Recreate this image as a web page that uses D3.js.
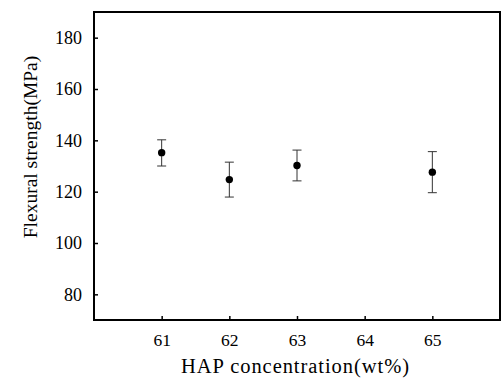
<!DOCTYPE html>
<html>
<head>
<meta charset="utf-8">
<script src="https://cdn.jsdelivr.net/npm/d3@7"></script>
<style>
  body { margin: 0; background: #fff; }
  text { font-family: "Liberation Serif", "Times New Roman", serif; fill: #000; }
</style>
</head>
<body>
<div id="chart"></div>
<script>
// datos
const hapConc = [61, 62, 63, 65];
const strength = [135.2, 124.7, 130.2, 127.6];
const errUp = [5.0, 6.8, 6.0, 8.0];
const errDown = [5.2, 6.8, 6.0, 8.0];
const xTicks = [61, 62, 63, 64, 65];
const yTicks = [80, 100, 120, 140, 160, 180];

const width = 502, height = 379;
const margin = { top: 12, right: 2, bottom: 59, left: 94 };
const serif = '"Liberation Serif", "Times New Roman", serif';

const svg = d3.select("#chart").append("svg")
    .attr("width", width)
    .attr("height", height);

const x = d3.scaleLinear().domain([60, 66]).range([margin.left, width - margin.right]);
const y = d3.scaleLinear().domain([70, 190]).range([height - margin.bottom, margin.top]);

// marco del grafico
svg.append("rect")
    .attr("x", x(60)).attr("y", y(190))
    .attr("width", x(66) - x(60)).attr("height", y(70) - y(190))
    .attr("fill", "none").attr("stroke", "#000").attr("stroke-width", 2);

// eje X (ticks hacia dentro)
const xAxis = svg.append("g")
    .attr("transform", `translate(0,${y(70)})`)
    .call(d3.axisBottom(x).tickValues(xTicks).tickFormat(d3.format("d"))
        .tickSizeInner(-4).tickSizeOuter(0).tickPadding(14));
xAxis.attr("font-family", serif);
xAxis.select(".domain").remove();
xAxis.selectAll("line").attr("stroke-width", 1.5);
xAxis.selectAll("text").style("font-family", serif).style("font-size", "17.5px");

// eje Y (ticks hacia dentro)
const yAxis = svg.append("g")
    .attr("transform", `translate(${x(60)},0)`)
    .call(d3.axisLeft(y).tickValues(yTicks).tickFormat(d3.format("d"))
        .tickSizeInner(-4).tickSizeOuter(0).tickPadding(12));
yAxis.attr("font-family", serif);
yAxis.select(".domain").remove();
yAxis.selectAll("line").attr("stroke-width", 1.5);
yAxis.selectAll("text").style("font-family", serif).style("font-size", "18px");

// barras de error
const pts = hapConc.map((c, i) => ({ c, v: strength[i], up: errUp[i], dn: errDown[i] }));
const eb = svg.append("g").attr("stroke", "#333").attr("stroke-width", 1);
eb.selectAll("line.v").data(pts).enter().append("line")
    .attr("x1", d => x(d.c)).attr("x2", d => x(d.c))
    .attr("y1", d => y(d.v + d.up)).attr("y2", d => y(d.v - d.dn));
eb.selectAll("line.t").data(pts).enter().append("line")
    .attr("x1", d => x(d.c) - 4.5).attr("x2", d => x(d.c) + 4.5)
    .attr("y1", d => y(d.v + d.up)).attr("y2", d => y(d.v + d.up));
eb.selectAll("line.b").data(pts).enter().append("line")
    .attr("x1", d => x(d.c) - 4.5).attr("x2", d => x(d.c) + 4.5)
    .attr("y1", d => y(d.v - d.dn)).attr("y2", d => y(d.v - d.dn));

// puntos
svg.selectAll("circle").data(pts).enter().append("circle")
    .attr("cx", d => x(d.c)).attr("cy", d => y(d.v))
    .attr("r", 3.7).attr("fill", "#000");

// etiquetas de los ejes
svg.append("text")
    .attr("x", 295).attr("y", 373)
    .attr("text-anchor", "middle").style("font-size", "20.5px")
    .attr("textLength", 228).attr("lengthAdjust", "spacing")
    .text("HAP concentration(wt%)");

svg.append("text")
    .attr("transform", "translate(37,147) rotate(-90)")
    .attr("text-anchor", "middle").style("font-size", "19.5px")
    .text("Flexural strength(MPa)");
</script>
</body>
</html>
